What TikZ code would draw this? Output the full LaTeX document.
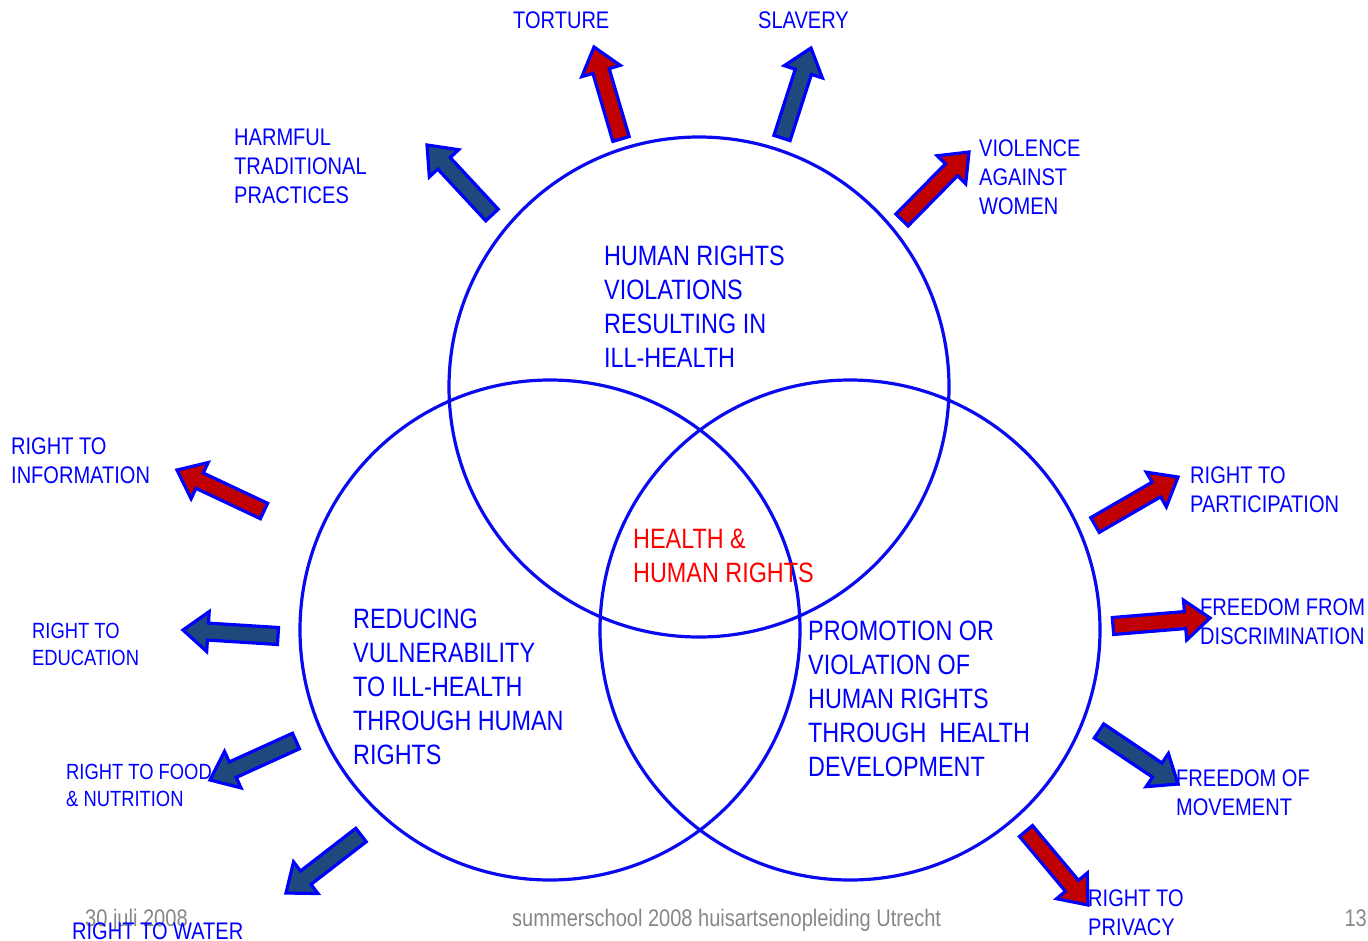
\documentclass[tikz,border=0pt]{standalone}
\usepackage{fontspec}
\setmainfont{Liberation Sans}[FakeStretch=0.835]
\usetikzlibrary{calc}
\definecolor{txtblue}{RGB}{0,0,255}
\definecolor{lineblue}{RGB}{10,10,240}
\definecolor{arrred}{RGB}{192,0,0}
\definecolor{arrdark}{RGB}{31,73,125}
\definecolor{footgray}{RGB}{135,135,135}
\newcommand\blkarrow[3]{% #1 tail, #2 tip, #3 fill
  \coordinate (#1-n) at ($(#2)!25pt!(#1)$);
  \draw[blkarrow, fill=#3]
   ($(#1)!8.5pt!90:(#2)$) -- ($(#1-n)!8.5pt!90:(#2)$) -- ($(#1-n)!20pt!90:(#2)$)
   -- (#2) -- ($(#1-n)!20pt!-90:(#2)$) -- ($(#1-n)!8.5pt!-90:(#2)$)
   -- ($(#1)!8.5pt!-90:(#2)$) -- cycle;}
\tikzset{
  blkarrow/.style={draw=txtblue, line width=3.2pt, line join=miter, miter limit=4},
  ring/.style={draw=lineblue, line width=3.2pt},
  lbl/.style={anchor=base west, inner sep=0pt, align=left, text=txtblue, font=\fontsize{24}{29}\selectfont},
  lblsm/.style={lbl, font=\fontsize{22}{27}\selectfont},
  lblbig/.style={lbl, font=\fontsize{28}{34}\selectfont},
  foot/.style={inner sep=0pt, text=footgray, font=\fontsize{24}{29}\selectfont}
}
\begin{document}
\begin{tikzpicture}[x=1pt, y=-1pt]
\useasboundingbox (0,0) rectangle (1368,940);
% footer
\node[foot, anchor=base west] (date) at (85,926) {30 juli 2008};
\node[foot, anchor=base west] (school) at (512,926) {summerschool 2008 huisartsenopleiding Utrecht};
\node[foot, anchor=base east] (page) at (1367,926) {13};
% circles
\draw[ring] (699,387) circle[radius=250];
\draw[ring] (550,630) circle[radius=250];
\draw[ring] (850,630) circle[radius=250];
% arrow coordinates
\coordinate (torT) at (621,139);  \coordinate (torH) at (594,47);
\coordinate (slaT) at (782,138);  \coordinate (slaH) at (811,48);
\coordinate (harT) at (492,215);  \coordinate (harH) at (427,145);
\coordinate (vioT) at (902,220);  \coordinate (vioH) at (969,152);
\coordinate (infT) at (264,511);  \coordinate (infH) at (177,470);
\coordinate (eduT) at (278,636);  \coordinate (eduH) at (183,630);
\coordinate (fooT) at (296,741);  \coordinate (fooH) at (210,780);
\coordinate (watT) at (361,835);  \coordinate (watH) at (286,893);
\coordinate (parT) at (1095,525); \coordinate (parH) at (1178,477);
\coordinate (disT) at (1113,626); \coordinate (disH) at (1210,618);
\coordinate (movT) at (1099,731); \coordinate (movH) at (1178,784);
\coordinate (priT) at (1026,831); \coordinate (priH) at (1088,905);
\blkarrow{torT}{torH}{arrred}
\blkarrow{slaT}{slaH}{arrdark}
\blkarrow{harT}{harH}{arrdark}
\blkarrow{vioT}{vioH}{arrred}
\blkarrow{infT}{infH}{arrred}
\blkarrow{eduT}{eduH}{arrdark}
\blkarrow{fooT}{fooH}{arrdark}
\blkarrow{watT}{watH}{arrdark}
\blkarrow{parT}{parH}{arrred}
\blkarrow{disT}{disH}{arrred}
\blkarrow{movT}{movH}{arrdark}
\blkarrow{priT}{priH}{arrred}
% labels (base anchor = baseline of last line)
\node[lbl] (torture) at (513,28) {TORTURE};
\node[lbl] (slavery) at (758,28) {SLAVERY};
\node[lbl] (harmful) at (234,203) {HARMFUL\\TRADITIONAL\\PRACTICES};
\node[lbl] (violence) at (979,214) {VIOLENCE\\AGAINST\\WOMEN};
\node[lbl] (information) at (11,483) {RIGHT TO\\INFORMATION};
\node[lblsm] (education) at (32,665) {RIGHT TO\\EDUCATION};
\node[lblsm] (food) at (66,806) {RIGHT TO FOOD\\\& NUTRITION};
\node[lbl] (water) at (72,939) {RIGHT TO WATER};
\node[lbl] (participation) at (1190,512) {RIGHT TO\\PARTICIPATION};
\node[lbl] (discrimination) at (1200,644) {FREEDOM FROM\\DISCRIMINATION};
\node[lbl] (movement) at (1176,815) {FREEDOM OF\\MOVEMENT};
\node[lbl] (privacy) at (1088,935) {RIGHT TO\\PRIVACY};
\node[lblbig] (violations) at (604,367) {HUMAN RIGHTS\\VIOLATIONS\\RESULTING IN\\ILL-HEALTH};
\node[lblbig] (reducing) at (353,764) {REDUCING\\VULNERABILITY\\TO ILL-HEALTH\\THROUGH HUMAN\\RIGHTS};
\node[lblbig] (promotion) at (808,776) {PROMOTION OR\\VIOLATION OF\\HUMAN RIGHTS\\THROUGH~ HEALTH\\DEVELOPMENT};
\node[lblbig, text=red] (center) at (633,582) {HEALTH \&\\HUMAN RIGHTS};
\end{tikzpicture}
\end{document}
